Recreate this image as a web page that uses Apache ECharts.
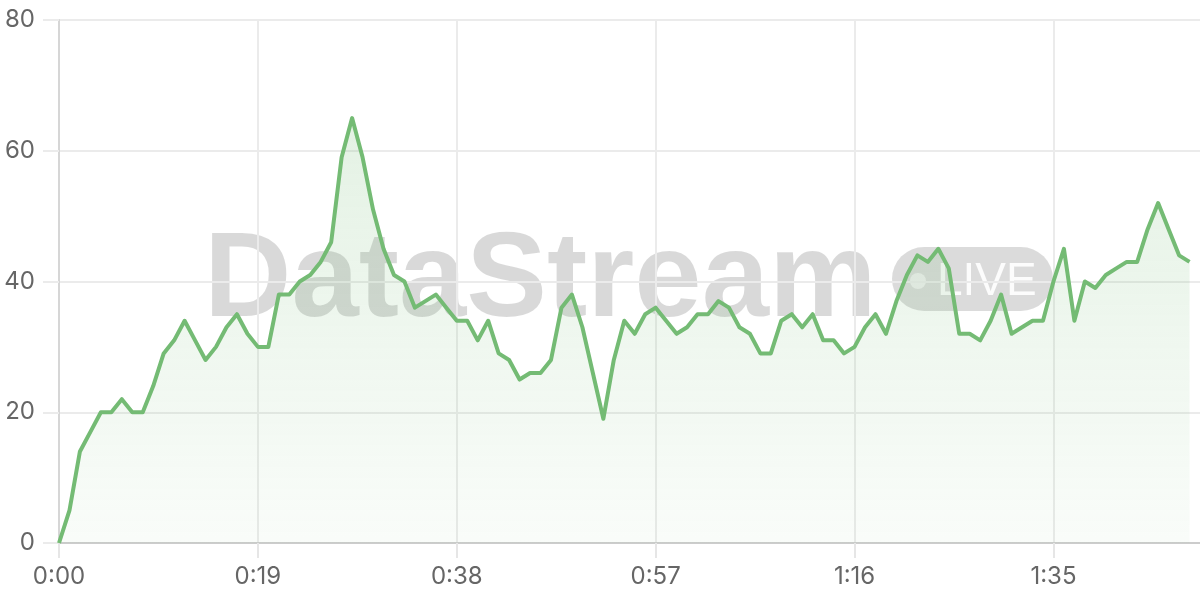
<!DOCTYPE html>
<html>
<head>
<meta charset="utf-8">
<script src="https://cdn.jsdelivr.net/npm/echarts@6/dist/echarts.min.js"></script>
<style>
html,body{margin:0;padding:0;background:#fff;}
#chart{width:1200px;height:600px;}
</style>
</head>
<body>
<div id="chart"></div>
<script>
// Values per second (0:00 .. 1:48)
const values = [
  0, 5, 14, 17, 20, 20, 22, 20, 20, 24,
  29, 31, 34, 31, 28, 30, 33, 35, 32, 30,
  30, 38, 38, 40, 41, 43, 46, 59, 65, 59,
  51, 45, 41, 40, 36, 37, 38, 36, 34, 34,
  31, 34, 29, 28, 25, 26, 26, 28, 36, 38,
  33, 26, 19, 28, 34, 32, 35, 36, 34, 32,
  33, 35, 35, 37, 36, 33, 32, 29, 29, 34,
  35, 33, 35, 31, 31, 29, 30, 33, 35, 32,
  37, 41, 44, 43, 45, 42, 32, 32, 31, 34,
  38, 32, 33, 34, 34, 40, 45, 34, 40, 39,
  41, 42, 43, 43, 48, 52, 48, 44, 43
];
const totalSeconds = 110; // axis spans one slot beyond the last sample
const yTicks = [0, 20, 40, 60, 80];
const watermarkText = 'DataStream';
const badgeText = 'LIVE';

function fmt(s){ const m = Math.floor(s/60); const r = s%60; return m + ':' + (r<10?'0':'') + r; }
const categories = [];
for (let s = 0; s < totalSeconds; s++) categories.push(fmt(s));

const labelFont = 'Inter, "Liberation Sans", sans-serif';
const chart = echarts.init(document.getElementById('chart'), null, {renderer:'canvas'});
chart.setOption({
  animation: false,
  grid: {left: 59, right: 0, top: 20, bottom: 57},
  graphic: [
    {type:'text', z:0, silent:true, left: 204, top: 222,
      style:{text: watermarkText, font:'bold 121px "Liberation Sans", Arial, sans-serif', fill:'rgba(0,0,0,0.15)'}},
    {type:'rect', z:0, silent:true, shape:{x:892, y:247, width:161, height:64, r:32},
      style:{fill:'rgba(0,0,0,0.14)'}},
    {type:'circle', z:0, silent:true, shape:{cx:918, cy:281, r:8},
      style:{fill:'rgba(255,255,255,0.55)'}},
    {type:'text', z:0, silent:true, left: 937, top: 259,
      style:{text: badgeText, font:'46px "Liberation Sans", Arial, sans-serif', fill:'rgba(255,255,255,0.9)'}}
  ],
  xAxis: {
    type: 'category',
    data: categories,
    boundaryGap: false,
    axisLine: {show:true, lineStyle:{color:'#cccccc', width:2}},
    axisTick: {show:true, interval:18, length:15, lineStyle:{color:'#e6e6e6', width:2}},
    axisLabel: {interval:18, margin:22, color:'#666', fontSize:24, fontFamily: labelFont},
    splitLine: {show:true, interval:18, lineStyle:{color:'#ebebeb', width:2}}
  },
  yAxis: {
    type: 'value',
    min: yTicks[0], max: yTicks[yTicks.length-1], interval: 20,
    axisLine: {show:true, lineStyle:{color:'#d6d6d6', width:2}},
    axisTick: {show:true, length:16, lineStyle:{color:'#ebebeb', width:2}},
    axisLabel: {margin:24, color:'#666', fontSize:24, fontFamily: labelFont},
    splitLine: {show:true, lineStyle:{color:'#ebebeb', width:2}}
  },
  series: [{
    type: 'line',
    data: values,
    symbol: 'none',
    z: 3,
    lineStyle: {color:'#74bb74', width:4, join:'round'},
    itemStyle: {color:'#74bb74'},
    areaStyle: {
      color: new echarts.graphic.LinearGradient(0,0,0,1,[
        {offset:0, color:'rgba(116,187,116,0.28)'},
        {offset:1, color:'rgba(116,187,116,0.06)'}
      ])
    }
  }]
});
</script>
</body>
</html>
